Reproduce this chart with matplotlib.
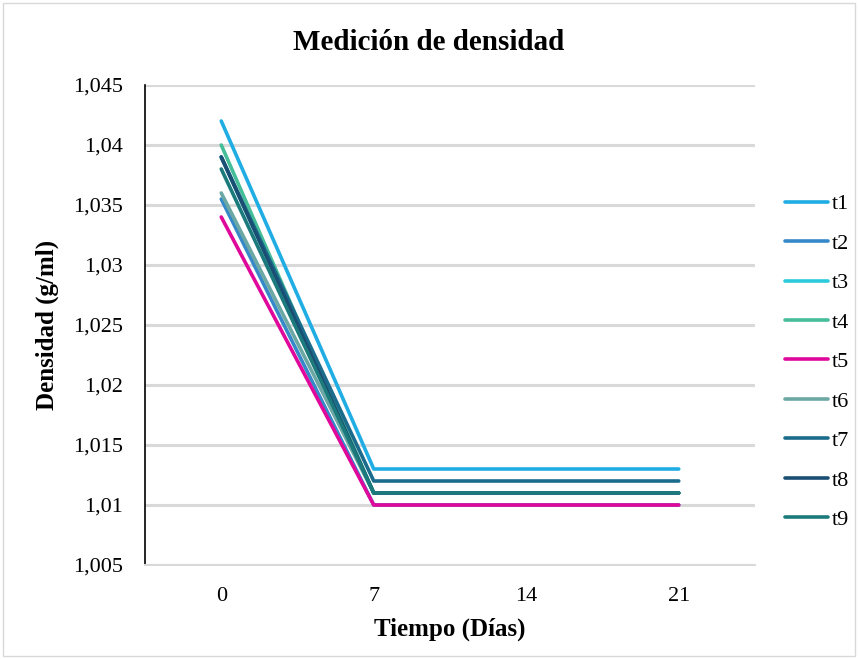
import matplotlib.pyplot as plt
from matplotlib.patches import Rectangle

plt.rcParams['font.family'] = ['Liberation Serif', 'DejaVu Serif']

dias = ['0', '7', '14', '21']
series = ['t1', 't2', 't3', 't4', 't5', 't6', 't7', 't8', 't9']
t1 = [1.042, 1.013, 1.013, 1.013]
t2 = [1.0355, 1.010, 1.010, 1.010]
t3 = [1.039, 1.011, 1.011, 1.011]
t4 = [1.040, 1.011, 1.011, 1.011]
t5 = [1.034, 1.010, 1.010, 1.010]
t6 = [1.036, 1.011, 1.011, 1.011]
t7 = [1.039, 1.012, 1.012, 1.012]
t8 = [1.039, 1.011, 1.011, 1.011]
t9 = [1.038, 1.011, 1.011, 1.011]
valores = [t1, t2, t3, t4, t5, t6, t7, t8, t9]
colores = ['#1fade3', '#3689c9', '#2ccbdb', '#45bd98', '#e0089b',
           '#6ba8a4', '#1b6b8c', '#1a4e73', '#1b7a7c']

fig = plt.figure(figsize=(8.58, 6.59), dpi=100)
ax = fig.add_axes([145 / 858, 1 - 565 / 659, 610 / 858, 480 / 659])

x = list(range(len(dias)))
for nombre, v, c in zip(series, valores, colores):
    ax.plot(x, v, color=c, lw=2.6, label=nombre, solid_capstyle='round')

ax.set_xlim(-0.5, 3.5)
ax.set_ylim(1.005, 1.045)
ax.set_xticks(x)
ax.set_xticklabels(dias)
yt = [1.005, 1.01, 1.015, 1.02, 1.025, 1.03, 1.035, 1.04, 1.045]
ax.set_yticks(yt)
ax.set_yticklabels([('%g' % v).replace('.', ',') for v in yt])
ax.tick_params(axis='y', length=0, labelsize=16, pad=16)
ax.tick_params(axis='x', length=0, labelsize=16, pad=16)
ax.grid(axis='y', color='#d9d9d9', lw=2.2)
ax.set_axisbelow(True)
for s in ['top', 'right']:
    ax.spines[s].set_visible(False)
ax.spines['bottom'].set_color('#d9d9d9')
ax.spines['bottom'].set_linewidth(1.5)
ax.spines['left'].set_color('black')
ax.spines['left'].set_linewidth(1.2)

ax.set_xlabel('Tiempo (Días)', fontsize=18, fontweight='bold', labelpad=8)
ax.set_ylabel('Densidad (g/ml)', fontsize=18, fontweight='bold', labelpad=10)
fig.text(0.5, 1 - 43 / 659, 'Medición de densidad', ha='center', va='center',
         fontsize=21, fontweight='bold')

ax.legend(loc='center left', bbox_to_anchor=(1.017, 0.423), frameon=False,
          fontsize=16, handlelength=1.9, handletextpad=0.2, labelspacing=0.85)

fig.patches.append(Rectangle((0.004, 0.004), 0.992, 0.992, transform=fig.transFigure,
                             fill=False, edgecolor='#d9d9d9', lw=1))

fig.savefig('out.png', dpi=100)
